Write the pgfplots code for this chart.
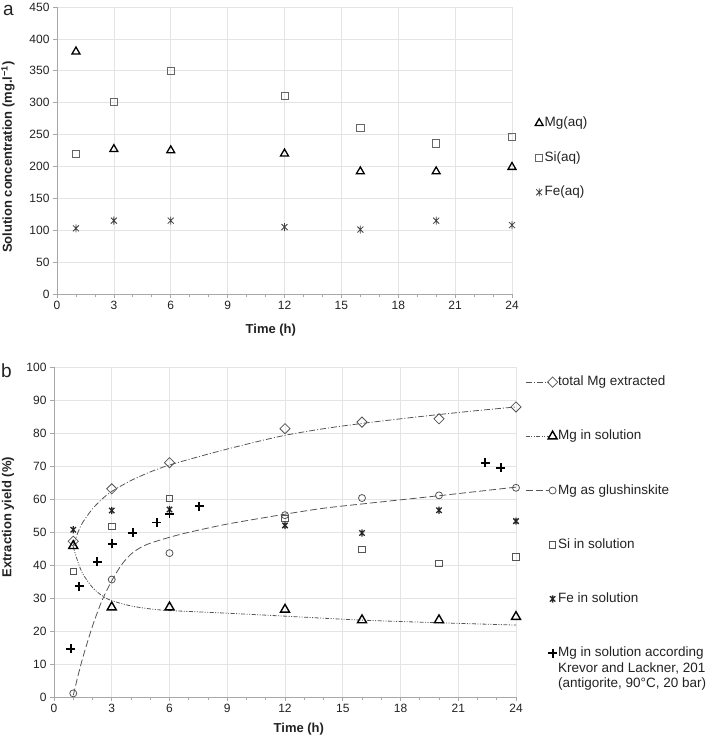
\documentclass[border=0pt]{standalone}
\usepackage{pgfplots}
\pgfplotsset{compat=1.18}
\usepackage{fontspec}
\setmainfont{Liberation Sans}
\definecolor{gridc}{HTML}{E4E4E4}
\definecolor{axc}{HTML}{A8A8A8}
\definecolor{txt}{HTML}{222222}
\definecolor{sq}{HTML}{666666}
\definecolor{ln}{HTML}{555555}
\pgfdeclareplotmark{xbar}{%
  \pgfpathmoveto{\pgfqpoint{-0.75\pgfplotmarksize}{-0.75\pgfplotmarksize}}%
  \pgfpathlineto{\pgfqpoint{0.75\pgfplotmarksize}{0.75\pgfplotmarksize}}%
  \pgfpathmoveto{\pgfqpoint{-0.75\pgfplotmarksize}{0.75\pgfplotmarksize}}%
  \pgfpathlineto{\pgfqpoint{0.75\pgfplotmarksize}{-0.75\pgfplotmarksize}}%
  \pgfpathmoveto{\pgfqpoint{0pt}{-\pgfplotmarksize}}%
  \pgfpathlineto{\pgfqpoint{0pt}{\pgfplotmarksize}}%
  \pgfusepathqstroke}
\tikzset{lab/.style={font=\bfseries\fontsize{13}{15}\selectfont, text=txt}}
\pgfplotsset{
  common/.style={
    scale only axis,
    axis lines*=left,
    axis line style={axc, line width=0.8pt},
    grid=major,
    major grid style={gridc, line width=0.7pt},
    tick align=outside,
    major tick length=4pt,
    minor tick length=3pt,
    every tick/.style={axc, line width=0.7pt},
    xmin=0, xmax=24, xtick={0,3,...,24}, minor x tick num=2,
    ticklabel style={font=\fontsize{12}{14}\selectfont, text=txt},
    /pgf/number format/assume math mode=true,
    clip=false,
    legend cell align=left,
    legend style={draw=none, fill=none, font=\fontsize{13.5}{15.5}\selectfont, text=txt, inner sep=0pt,
      nodes={inner sep=0.5pt, text height=10pt, text depth=3pt}},
  },
  mkonly/.style={legend image code/.code={\path[draw=none,fill=none] (-4pt,-5pt) rectangle (5pt,5pt); \draw[##1] plot coordinates {(0pt,0pt)};}},
  mkline/.style={legend image code/.code={\path[draw=none,fill=none] (-27pt,-5pt) rectangle (5pt,5pt); \draw[ln, line width=0.8pt, #1] (-27pt,0pt) -- (-4pt,0pt); \draw[##1] plot coordinates {(0pt,0pt)};}},
  mkonlyb/.style={legend image code/.code={\path[draw=none,fill=none] (-27pt,-5pt) rectangle (5pt,5pt); \draw[##1] plot coordinates {(0pt,0pt)};}},
}
\begin{document}
\begin{tikzpicture}
\path[use as bounding box] (0pt,0pt) rectangle (708pt,-738pt);
\node[anchor=base west, inner sep=0pt, font=\fontsize{19}{19}\selectfont, text=txt] at (3pt,-15.5pt) {a};
\node[anchor=base west, inner sep=0pt, font=\fontsize{19}{19}\selectfont, text=txt] at (1pt,-377pt) {b};
% ---------------- panel a
\begin{axis}[common,
  at={(57pt,-294pt)}, anchor=south west,
  width=455pt, height=287pt,
  ymin=0, ymax=450, ytick={0,50,...,450},
  xlabel={Time (h)}, ylabel={Solution concentration (mg.l\textsuperscript{−1})},
  every axis x label/.style={at={(axis description cs:0.47,-0.125)}, anchor=center, lab},
  every axis y label/.style={at={(axis description cs:-0.1077,0.477)}, rotate=90, anchor=center, lab},
  legend style={at={(axis description cs:1.0505,0.62)}, anchor=north west, row sep=20.5pt},
]
\addplot[only marks, mark=triangle, mark size=4.6pt, black, line width=1.3pt, mkonly]
  coordinates {(1,380)(3,227)(6,225)(12,220)(16,192)(20,192)(24,199)};
\addlegendentry{Mg(aq)}
\addplot[only marks, mark=square, mark size=3.6pt, sq, line width=0.8pt, mkonly]
  coordinates {(1,220)(3,301)(6,350)(12,311)(16,260)(20,236)(24,246)};
\addlegendentry{Si(aq)}
\addplot[only marks, mark=xbar, mark size=4pt, black!75, line width=0.8pt, mkonly]
  coordinates {(1,103)(3,115)(6,115)(12,105)(16,101)(20,115)(24,108)};
\addlegendentry{Fe(aq)}
\end{axis}
% ---------------- panel b
\begin{axis}[common,
  at={(54pt,-697pt)}, anchor=south west,
  width=462pt, height=330pt,
  ymin=0, ymax=100, ytick={0,10,...,100},
  xlabel={Time (h)}, ylabel={Extraction yield (\%)},
  every axis x label/.style={at={(axis description cs:0.53,-0.097)}, anchor=center, lab},
  every axis y label/.style={at={(axis description cs:-0.0996,0.545)}, rotate=90, anchor=center, lab},
  legend style={at={(axis description cs:1.0195,0.976)}, anchor=north west, row sep=40.2pt},
]
% fitted curves
\addplot[forget plot, no marks, smooth, ln, line width=0.8pt, dash pattern=on 6pt off 2pt on 1pt off 2pt]
  coordinates {(1,46)(1.25,50)(1.5,53)(2,57)(2.5,60)(3,62.3)(4,65.6)(5,68.2)(6,70.3)(8,73.6)(10,76.6)(12,79.3)(14,81.3)(16,82.9)(18,84.3)(20,85.6)(22,86.8)(24,87.9)};
\addplot[forget plot, no marks, smooth, ln, line width=0.8pt, dash pattern=on 4pt off 1.5pt on 1pt off 1.5pt on 1pt off 1.5pt]
  coordinates {(1,45.5)(1.25,40.8)(1.5,37.3)(2,33.2)(2.5,30.7)(3,29.2)(4,27.6)(5,26.7)(6,26.2)(9,25.4)(12,24.5)(16,23.3)(20,22.5)(24,21.8)};
\addplot[forget plot, no marks, smooth, ln, line width=0.8pt, dash pattern=on 7pt off 3pt]
  coordinates {(1,0.5)(1.25,6.5)(1.5,12)(2,21.5)(2.5,29.3)(3,35.2)(3.5,40)(4,43.3)(4.5,45.3)(5,46.6)(6,48.4)(7,49.9)(9,52.4)(12,55.4)(14,57.2)(16,58.5)(20,61.0)(24,63.6)};
% data
\addplot[only marks, mark=square, mark size=3.6pt, mark options={rotate=45}, ln, line width=0.8pt,
  mkline={dash pattern=on 6pt off 2pt on 1pt off 2pt}]
  coordinates {(1,47.2)(3,63.1)(6,71.0)(12,81.3)(16,83.3)(20,84.3)(24,87.9)};
\addlegendentry{total Mg extracted}
\addplot[only marks, mark=triangle, mark size=5.2pt, black, line width=1.4pt,
  mkline={dash pattern=on 4pt off 1.5pt on 1pt off 1.5pt on 1pt off 1.5pt}]
  coordinates {(1,45.8)(3,27.2)(6,27.2)(12,26.5)(16,23.3)(20,23.3)(24,24.3)};
\addlegendentry{Mg in solution}
\addplot[only marks, mark=o, mark size=3.5pt, ln, line width=0.8pt,
  mkline={dash pattern=on 7pt off 3pt}]
  coordinates {(1,1.1)(3,35.6)(6,43.6)(12,55.1)(16,60.3)(20,61.1)(24,63.4)};
\addlegendentry{Mg as glushinskite}
\addplot[only marks, mark=square, mark size=3.2pt, ln, line width=0.8pt, mkonlyb]
  coordinates {(1,38.1)(3,51.7)(6,60.1)(12,54.1)(16,44.7)(20,40.5)(24,42.4)};
\addlegendentry{Si in solution}
\addplot[only marks, mark=xbar, mark size=3.6pt, black!85, line width=1.3pt, mkonlyb]
  coordinates {(1,50.7)(3,56.5)(6,56.8)(12,52.0)(16,49.7)(20,56.6)(24,53.3)};
\addlegendentry{Fe in solution}
\addplot[only marks, mark=+, mark size=4.5pt, black, line width=1.8pt, mkonlyb]
  coordinates {(0.88,14.6)(1.31,33.6)(2.25,41.0)(3.02,46.4)(4.1,49.7)(5.35,52.9)(6,55.5)(7.55,57.8)(22.4,71.0)(23.2,69.4)};
\addlegendentry{\begin{tabular}[t]{@{}l@{}}Mg in solution according\\Krevor and Lackner, 201\\(antigorite, 90°C, 20 bar)\end{tabular}}
\end{axis}
\end{tikzpicture}
\end{document}
